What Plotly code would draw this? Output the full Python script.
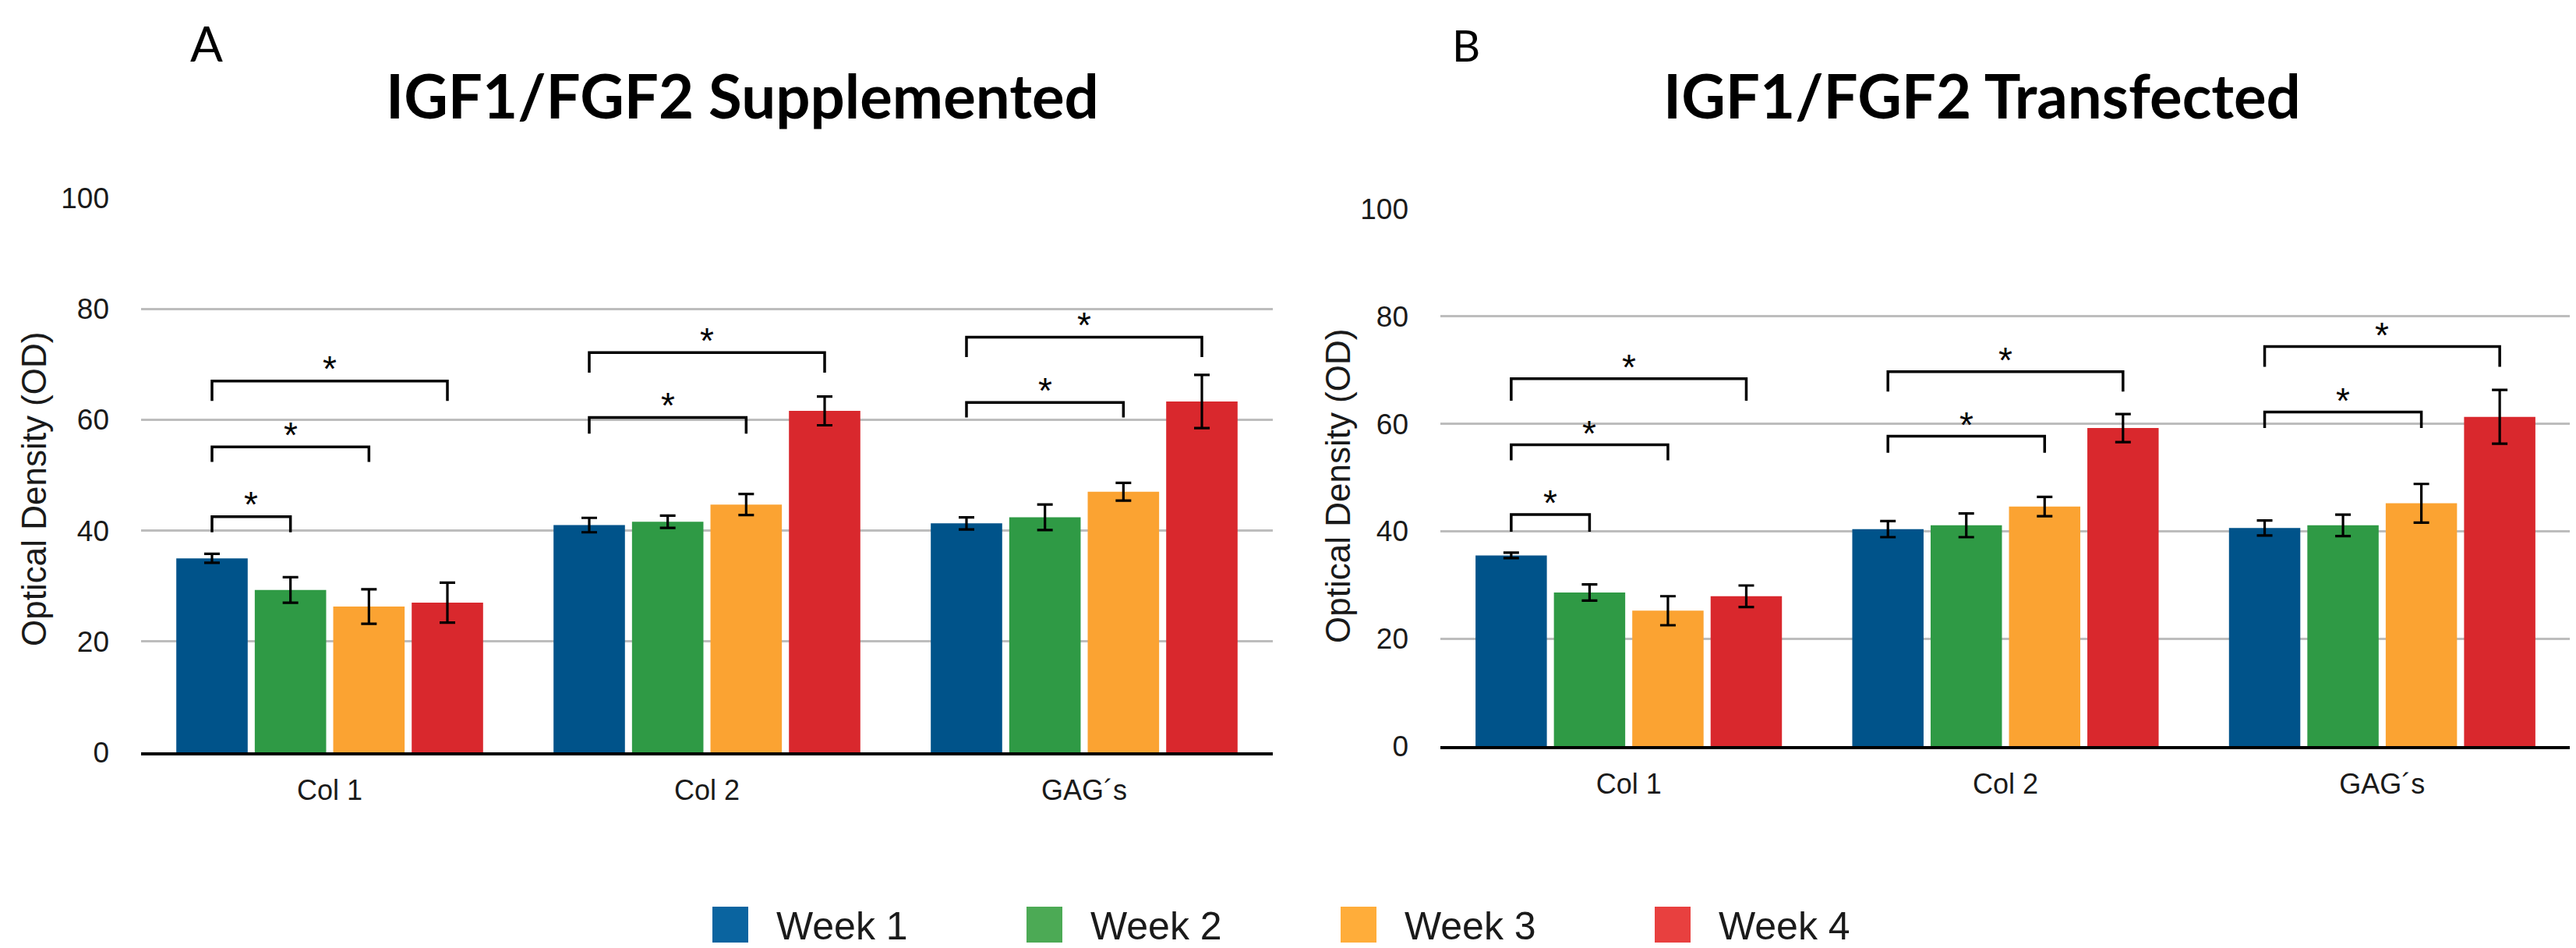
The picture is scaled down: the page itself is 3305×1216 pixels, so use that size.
import plotly.graph_objects as go

# ---------------- data ----------------
categories = ["Col 1", "Col 2", "GAG´s"]
weeks = ["Week 1", "Week 2", "Week 3", "Week 4"]

# mean optical density, one list per week (Col 1, Col 2, GAG´s)
supp_means = [
    [35.0, 41.0, 41.3],
    [29.3, 41.6, 42.4],
    [26.3, 44.7, 47.0],
    [27.0, 61.6, 63.3],
]
supp_err = [
    [0.8, 1.3, 1.1],
    [2.3, 1.1, 2.3],
    [3.1, 1.9, 1.6],
    [3.6, 2.6, 4.8],
]
trans_means = [
    [35.5, 40.4, 40.6],
    [28.6, 41.1, 41.1],
    [25.2, 44.6, 45.2],
    [27.9, 59.2, 61.3],
]
trans_err = [
    [0.5, 1.5, 1.4],
    [1.5, 2.2, 2.0],
    [2.7, 1.8, 3.6],
    [2.0, 2.6, 5.0],
]

# significance brackets: (category index, from week, to week, bracket top, leg bottom)
supp_brackets = [
    (0, 0, 1, 42.5, 39.7),
    (0, 0, 2, 55.1, 52.4),
    (0, 0, 3, 67.0, 63.4),
    (1, 0, 2, 60.4, 57.5),
    (1, 0, 3, 72.1, 68.5),
    (2, 0, 2, 63.1, 60.4),
    (2, 0, 3, 74.9, 71.3),
]
trans_brackets = [
    (0, 0, 1, 43.1, 39.9),
    (0, 0, 2, 56.1, 53.2),
    (0, 0, 3, 68.4, 64.3),
    (1, 0, 2, 57.7, 54.6),
    (1, 0, 3, 69.7, 66.0),
    (2, 0, 2, 62.2, 59.2),
    (2, 0, 3, 74.4, 70.6),
]

y_ticks = [0, 20, 40, 60, 80, 100]
panel_titles = ["IGF1/FGF2 Supplemented", "IGF1/FGF2 Transfected"]
panel_letters = ["A", "B"]
y_title = "Optical Density (OD)"

# ---------------- style ----------------
bar_colors = ["#00538A", "#2F9A45", "#FBA332", "#D9282D"]
legend_colors = ["#0A64A0", "#4CAA55", "#FFAD3A", "#E8403F"]
W, H = 3305, 1216
ARIAL = "Liberation Sans, Arial, sans-serif"
TITLE_FONT = "Lato, Open Sans, sans-serif"
BARGAP = 0.168
SLOT = (1 - BARGAP) / 4

fig = go.Figure()

panels = [
    ("x", "y", supp_means, supp_err, supp_brackets),
    ("x2", "y2", trans_means, trans_err, trans_brackets),
]
xs = list(range(len(categories)))

for p, (xa, ya, means, errs, brackets) in enumerate(panels):
    for k, wk in enumerate(weeks):
        fig.add_trace(go.Bar(
            x=xs, y=means[k], name=wk, xaxis=xa, yaxis=ya,
            marker=dict(color=bar_colors[k], line=dict(width=0)),
            error_y=dict(type="data", array=errs[k], color="black",
                         thickness=3.2, width=10),
            showlegend=False,
        ))
    for (c, a, b, top, bottom) in brackets:
        x1 = c + (a - 1.5) * SLOT
        x2 = c + (b - 1.5) * SLOT
        fig.add_shape(type="path",
                      path=f"M {x1},{bottom} L {x1},{top} L {x2},{top} L {x2},{bottom}",
                      xref=xa, yref=ya, line=dict(color="black", width=3.5))
        fig.add_annotation(x=(x1 + x2) / 2, y=top + 3.6, xref=xa, yref=ya,
                           text="*", showarrow=False, yshift=-10,
                           font=dict(family=ARIAL, size=46, color="black"))

def px_x(v):
    return v / W

def px_y(v):
    return (H - v) / H

axis_common = dict(showline=False, zeroline=False)
xdomains = [[px_x(173), px_x(1625)], [px_x(1840), px_x(3290)]]
ydomains = [[px_y(957), px_y(246)], [px_y(949), px_y(260)]]

layout_axes = {}
for p in range(2):
    sx = "" if p == 0 else "2"
    layout_axes[f"xaxis{sx}"] = dict(
        domain=xdomains[p], range=[-0.5, len(categories) - 0.5],
        tickvals=xs, ticktext=categories, showgrid=False, zeroline=False,
        showline=True, linecolor="black", linewidth=3.5, ticks="",
        ticklabelstandoff=14,
        tickfont=dict(family=ARIAL, size=36, color="#1a1a1a"),
        anchor="y" if p == 0 else "y2", fixedrange=True,
    )
    layout_axes[f"yaxis{sx}"] = dict(
        domain=ydomains[p], range=[0, 100], tickvals=y_ticks,
        showgrid=True, gridcolor="#BDBDBD", gridwidth=3, zeroline=False,
        showline=False, ticks="", ticklabelstandoff=40,
        tickfont=dict(family=ARIAL, size=37, color="#1a1a1a"),
        anchor="x" if p == 0 else "x2", fixedrange=True,
    )

annotations = []
# panel titles
title_x = [944, 2535]
for p in range(2):
    annotations.append(dict(x=px_x(title_x[p]), y=px_y(144 - 0.387 * 78), xref="paper", yref="paper",
                            text=f"<b>{panel_titles[p]}</b>", showarrow=False,
                            xanchor="center", yanchor="middle",
                            font=dict(family=TITLE_FONT, size=78, color="black")))
letter_x = [257, 1873]
letter_size = [62, 56]
for p in range(2):
    annotations.append(dict(x=px_x(letter_x[p]), y=px_y(71 - 0.387 * letter_size[p]), xref="paper", yref="paper",
                            text=panel_letters[p], showarrow=False,
                            xanchor="center", yanchor="middle",
                            font=dict(family=TITLE_FONT, size=letter_size[p], color="black")))
ytitle_x = [35, 1709]
ytitle_y = [620, 615]
for p in range(2):
    annotations.append(dict(x=px_x(ytitle_x[p]), y=px_y(ytitle_y[p]), xref="paper", yref="paper",
                            text=y_title, showarrow=False, textangle=-90,
                            xanchor="center", yanchor="middle",
                            font=dict(family=ARIAL, size=44, color="#1a1a1a")))

# legend (drawn row)
shapes_legend = []
for k, wk in enumerate(weeks):
    x0 = 906 + k * 403
    shapes_legend.append(dict(type="rect", xref="paper", yref="paper",
                              x0=px_x(x0), x1=px_x(x0 + 46), y0=px_y(1201), y1=px_y(1155),
                              fillcolor=legend_colors[k], line=dict(width=0)))
    annotations.append(dict(x=px_x(x0 + 80), y=px_y(1180), xref="paper", yref="paper",
                            text=wk, showarrow=False, xanchor="left", yanchor="middle",
                            font=dict(family=ARIAL, size=50, color="#1a1a1a")))

fig.update_layout(
    width=W, height=H,
    margin=dict(l=0, r=0, t=0, b=0, autoexpand=False),
    paper_bgcolor="white", plot_bgcolor="white",
    barmode="group", bargap=BARGAP, bargroupgap=0.09,
    showlegend=False,
    **layout_axes,
)
for a in annotations:
    fig.add_annotation(**a)
for s in shapes_legend:
    fig.add_shape(**s)

fig.write_html("out.html")
